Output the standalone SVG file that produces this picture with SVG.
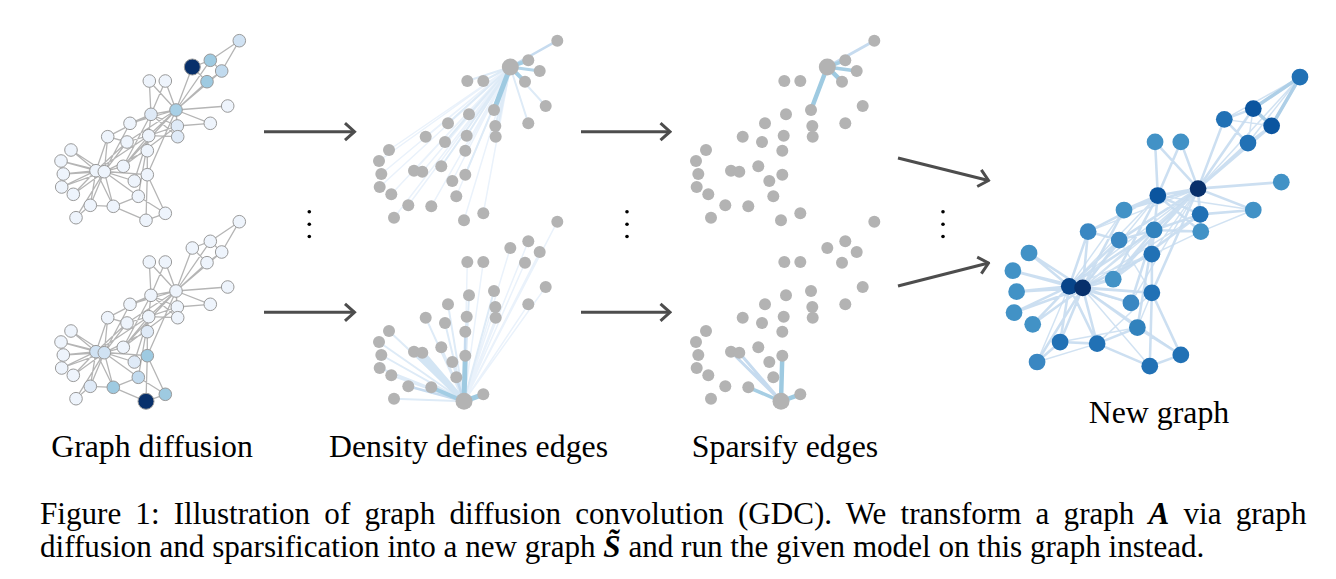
<svg xmlns="http://www.w3.org/2000/svg" xmlns:xlink="http://www.w3.org/1999/xlink" width="1336" height="579" viewBox="0 0 1336 579">
<style>
.lbl{font-family:"Liberation Serif","Times New Roman",serif;font-size:31.8px;fill:#000}
.cap{font-family:"Liberation Serif","Times New Roman",serif;font-size:31.1px;fill:#000}
.ke{fill:none;stroke:#b5b5b5;stroke-width:1.3}
.c1 circle{stroke:#9a9a9a;stroke-width:1}
.g circle{fill:#b3b3b3}
.q0{fill:#eef4fc}.q1{fill:#dfeaf7}.q2{fill:#d0e2f3}.q3{fill:#c1daee}.q4{fill:#9ecae1}.q5{fill:#a8d0e6}.nv{fill:#08306b}
.w5{fill:none;stroke:#9ecae1;stroke-width:5}
.w4{fill:none;stroke:#a3cde4;stroke-width:4}
.w3{fill:none;stroke:#b3d5ea;stroke-width:3}
.wb{fill:none;stroke:#d3e5f4;stroke-width:5}
.w2{fill:none;stroke:#c6dbef;stroke-width:2.5}
.w1{fill:none;stroke:#deebf7;stroke-width:2}
.w0{fill:none;stroke:#eaf2fb;stroke-width:1.5}
.s4{fill:none;stroke:#9ecae1;stroke-width:4.5}
.s3{fill:none;stroke:#a6cee4;stroke-width:3.5}
.s2{fill:none;stroke:#c6dbef;stroke-width:3}
.arr{stroke:#4d4d4d;stroke-width:3;fill:none}
.dot{fill:#000}
.ng circle{stroke:none}
</style>
<defs>
<marker id="chev" viewBox="-12 -11 14 22" markerWidth="14" markerHeight="22" refX="0" refY="0" orient="auto" markerUnits="userSpaceOnUse">
<path d="M-9.5,-8.5 L0,0 L-9.5,8.5" fill="none" stroke="#4d4d4d" stroke-width="3"/>
</marker>
<path id="kedges" d="M176 110L151 114.3M176 110L148.7 135.7M176 110L177.3 126M176 110L192.3 67M176 110L221.7 71M176 110L210.3 60.3M176 110L177.7 136.7M176 110L127 142M176 110L207 81.7M176 110L227.7 106M176 110L210.3 123.3M176 110L123.3 166.3M176 110L149.3 81M176 110L130 123.3M176 110L165.3 81M176 110L147.3 174.7M151 114.3L148.7 135.7M151 114.3L177.3 126M151 114.3L177.7 136.7M151 114.3L123.3 166.3M151 114.3L149.3 81M151 114.3L130 123.3M151 114.3L165.3 81M151 114.3L107.7 136.7M148.7 135.7L177.3 126M148.7 135.7L177.7 136.7M148.7 135.7L127 142M148.7 135.7L134.3 181M148.7 135.7L123.3 166.3M148.7 135.7L138.3 196.3M148.7 135.7L147.3 150.7M148.7 135.7L96 170.7M177.3 126L177.7 136.7M177.3 126L210.3 123.3M177.3 126L123.3 166.3M192.3 67L210.3 60.3M192.3 67L207 81.7M221.7 71L210.3 60.3M221.7 71L207 81.7M221.7 71L239.3 40.7M210.3 60.3L239.3 40.7M127 142L107.7 136.7M127 142L96 170.7M127 142L104.3 171.7M134.3 181L104.3 171.7M123.3 166.3L104.3 171.7M71 150L96 170.7M71 150L104.3 171.7M61 161L96 170.7M61 161L104.3 171.7M63.3 174L96 170.7M63.3 174L104.3 171.7M130 123.3L104.3 171.7M61.7 187L96 170.7M61.7 187L104.3 171.7M73.3 194.3L96 170.7M73.3 194.3L104.3 171.7M113.3 206.3L146 220.3M113.3 206.3L138.3 196.3M113.3 206.3L90.3 205.3M113.3 206.3L96 170.7M113.3 206.3L104.3 171.7M165.3 213.3L146 220.3M165.3 213.3L138.3 196.3M165.3 213.3L147.3 174.7M146 220.3L147.3 174.7M76 217.7L90.3 205.3M76 217.7L104.3 171.7M138.3 196.3L104.3 171.7M147.3 150.7L147.3 174.7M147.3 150.7L104.3 171.7M90.3 205.3L96 170.7M90.3 205.3L104.3 171.7M107.7 136.7L96 170.7M107.7 136.7L104.3 171.7M147.3 174.7L96 170.7M147.3 174.7L104.3 171.7M96 170.7L104.3 171.7"/>
</defs>

<!-- connectors -->
<g id="connectors">
  <g id="edges-diffusion-top"><use xlink:href="#kedges" class="ke"/></g>
  <g id="edges-diffusion-bottom" transform="translate(0 181)"><use xlink:href="#kedges" class="ke"/></g>
  <g id="edges-density-top" transform="translate(318 0)">
    <path class="w0" d="M192.3 67L134.3 181M192.3 67L71 150M192.3 67L61 161M192.3 67L63.3 174M192.3 67L61.7 187M192.3 67L73.3 194.3M192.3 67L113.3 206.3M192.3 67L165.3 213.3M192.3 67L146 220.3M192.3 67L76 217.7M192.3 67L138.3 196.3M192.3 67L147.3 150.7M192.3 67L90.3 205.3M192.3 67L107.7 136.7M192.3 67L96 170.7M192.3 67L104.3 171.7"/>
    <path class="w1" d="M192.3 67L151 114.3M192.3 67L148.7 135.7M192.3 67L177.3 126M192.3 67L177.7 136.7M192.3 67L127 142M192.3 67L227.7 106M192.3 67L210.3 123.3M192.3 67L123.3 166.3M192.3 67L149.3 81M192.3 67L130 123.3M192.3 67L165.3 81M192.3 67L147.3 174.7"/>
    <path class="w2" d="M192.3 67L239.3 40.7"/>
    <path class="w3" d="M192.3 67L221.7 71"/>
    <path class="w4" d="M192.3 67L210.3 60.3M192.3 67L207 81.7"/>
    <path class="w5" d="M192.3 67L176 110"/>
  </g>
  <g id="edges-density-bottom" transform="translate(318 181)">
    <path class="w0" d="M146 220.3L177.3 126M146 220.3L192.3 67M146 220.3L221.7 71M146 220.3L210.3 60.3M146 220.3L177.7 136.7M146 220.3L207 81.7M146 220.3L227.7 106M146 220.3L210.3 123.3M146 220.3L239.3 40.7M146 220.3L149.3 81M146 220.3L165.3 81"/>
    <path class="w1" d="M146 220.3L176 110M146 220.3L148.7 135.7M146 220.3L76 217.7M146 220.3L73.3 194.3M146 220.3L61.7 187M146 220.3L63.3 174M146 220.3L61 161M146 220.3L71 150M146 220.3L134.3 181M146 220.3L123.3 166.3M146 220.3L127 142M146 220.3L107.7 136.7M146 220.3L151 114.3M146 220.3L130 123.3"/>
    <path class="wb" d="M146 220.3L96 170.7M146 220.3L104.3 171.7"/>
    <path class="w2" d="M146 220.3L138.3 196.3M146 220.3L90.3 205.3M146 220.3L147.3 150.7"/>
    <path class="w4" d="M146 220.3L113.3 206.3"/>
    <path class="w5" d="M146 220.3L147.3 174.7M146 220.3L165.3 213.3"/>
  </g>
  <g id="edges-sparse-top" transform="translate(635 0)">
    <path class="s2" d="M192.3 67L239.3 40.7"/>
    <path class="s3" d="M192.3 67L210.3 60.3M192.3 67L221.7 71"/>
    <path class="s4" d="M192.3 67L176 110M192.3 67L207 81.7"/>
  </g>
  <g id="edges-sparse-bottom" transform="translate(635 181)">
    <path class="s2" d="M146 220.3L96 170.7M146 220.3L104.3 171.7"/>
    <path class="s3" d="M146 220.3L113.3 206.3"/>
    <path class="s4" d="M146 220.3L147.3 174.7M146 220.3L165.3 213.3"/>
  </g>
  <g id="edges-new" transform="translate(914.7 11.5) scale(1.61)">
    <path fill="none" stroke="#c6dbef" stroke-width="0.9" stroke-opacity="0.8" d="M239.3 40.7L192.3 67M239.3 40.7L207 81.7M239.3 40.7L176 110M192.3 67L221.7 71M210.3 60.3L207 81.7M176 110L96 170.7M176 110L104.3 171.7M151 114.3L96 170.7M151 114.3L104.3 171.7M151 114.3L210.3 123.3M148.7 135.7L104.3 171.7M176 110L134.3 181M176 110L107.7 136.7M176 110L147.3 150.7M177.3 126L104.3 171.7M177.7 136.7L104.3 171.7M147.3 150.7L96 170.7M165.3 213.3L104.3 171.7M146 220.3L104.3 171.7M113.3 206.3L147.3 174.7M138.3 196.3L147.3 174.7M76 217.7L96 170.7M76 217.7L113.3 206.3M90.3 205.3L138.3 196.3M123.3 166.3L96 170.7M134.3 181L96 170.7M130 123.3L96 170.7M127 142L147.3 174.7M210.3 123.3L177.7 136.7"/>
    <use xlink:href="#kedges" fill="none" stroke="#c6dbef" stroke-width="1.6" stroke-opacity="0.9"/>
    <path fill="none" stroke="#aecfe7" stroke-width="2.2" d="M239.3 40.7L210.3 60.3M239.3 40.7L221.7 71M210.3 60.3L221.7 71"/>
  </g>
  <g id="arrows">
    <line class="arr" x1="264" y1="131.7" x2="354.5" y2="131.7" marker-end="url(#chev)"/>
    <line class="arr" x1="264" y1="312.3" x2="354.5" y2="312.3" marker-end="url(#chev)"/>
    <line class="arr" x1="581" y1="131.7" x2="670" y2="131.7" marker-end="url(#chev)"/>
    <line class="arr" x1="581" y1="312.3" x2="670" y2="312.3" marker-end="url(#chev)"/>
    <line class="arr" x1="898" y1="158" x2="988.5" y2="180.5" marker-end="url(#chev)"/>
    <line class="arr" x1="898" y1="286" x2="988.5" y2="263" marker-end="url(#chev)"/>
  </g>
</g>

<g id="ellipses">
  <circle class="dot" cx="309.3" cy="211.7" r="1.8"/><circle class="dot" cx="309.3" cy="224.3" r="1.8"/><circle class="dot" cx="309.3" cy="236.5" r="1.8"/>
  <circle class="dot" cx="627" cy="211.7" r="1.8"/><circle class="dot" cx="627" cy="224.3" r="1.8"/><circle class="dot" cx="627" cy="236.5" r="1.8"/>
  <circle class="dot" cx="943" cy="211.7" r="1.8"/><circle class="dot" cx="943" cy="224.3" r="1.8"/><circle class="dot" cx="943" cy="236.5" r="1.8"/>
</g>

<!-- Column 1 top: graph diffusion from node 4 -->
<g id="graph-diffusion-top" class="c1">
<g id="a0"><circle class="q5" cx="176" cy="110" r="6.3"/></g>
<g id="a1"><circle class="q1" cx="151" cy="114.3" r="6.3"/></g>
<g id="a2"><circle class="q0" cx="148.7" cy="135.7" r="6.3"/></g>
<g id="a3"><circle class="q1" cx="177.3" cy="126" r="6.3"/></g>
<g id="a5"><circle class="q3" cx="221.7" cy="71" r="6.3"/></g>
<g id="a6"><circle class="q4" cx="210.3" cy="60.3" r="6.3"/></g>
<g id="a7"><circle class="q1" cx="177.7" cy="136.7" r="6.3"/></g>
<g id="a8"><circle class="q0" cx="127" cy="142" r="6.3"/></g>
<g id="a9"><circle class="q0" cx="134.3" cy="181" r="6.3"/></g>
<g id="a10"><circle class="q4" cx="207" cy="81.7" r="6.3"/></g>
<g id="a11"><circle class="q0" cx="227.7" cy="106" r="6.3"/></g>
<g id="a12"><circle class="q0" cx="210.3" cy="123.3" r="6.3"/></g>
<g id="a13"><circle class="q0" cx="123.3" cy="166.3" r="6.3"/></g>
<g id="a14"><circle class="q0" cx="71" cy="150" r="6.3"/></g>
<g id="a15"><circle class="q0" cx="61" cy="161" r="6.3"/></g>
<g id="a16"><circle class="q2" cx="239.3" cy="40.7" r="6.3"/></g>
<g id="a17"><circle class="q0" cx="149.3" cy="81" r="6.3"/></g>
<g id="a18"><circle class="q0" cx="63.3" cy="174" r="6.3"/></g>
<g id="a19"><circle class="q0" cx="130" cy="123.3" r="6.3"/></g>
<g id="a20"><circle class="q0" cx="61.7" cy="187" r="6.3"/></g>
<g id="a21"><circle class="q0" cx="165.3" cy="81" r="6.3"/></g>
<g id="a22"><circle class="q0" cx="73.3" cy="194.3" r="6.3"/></g>
<g id="a23"><circle class="q0" cx="113.3" cy="206.3" r="6.3"/></g>
<g id="a24"><circle class="q0" cx="165.3" cy="213.3" r="6.3"/></g>
<g id="a25"><circle class="q0" cx="146" cy="220.3" r="6.3"/></g>
<g id="a26"><circle class="q0" cx="76" cy="217.7" r="6.3"/></g>
<g id="a27"><circle class="q0" cx="138.3" cy="196.3" r="6.3"/></g>
<g id="a28"><circle class="q0" cx="147.3" cy="150.7" r="6.3"/></g>
<g id="a29"><circle class="q0" cx="90.3" cy="205.3" r="6.3"/></g>
<g id="a30"><circle class="q0" cx="107.7" cy="136.7" r="6.3"/></g>
<g id="a31"><circle class="q0" cx="147.3" cy="174.7" r="6.3"/></g>
<g id="a32"><circle class="q0" cx="96" cy="170.7" r="6.3"/></g>
<g id="a33"><circle class="q0" cx="104.3" cy="171.7" r="6.3"/></g>
<g id="a4"><circle class="nv" cx="192.3" cy="67" r="8"/></g>
</g>

<!-- Column 1 bottom: graph diffusion from node 25 -->
<g id="graph-diffusion-bottom" class="c1" transform="translate(0 181)">
<g id="b0"><circle class="q0" cx="176" cy="110" r="6.3"/></g>
<g id="b1"><circle class="q0" cx="151" cy="114.3" r="6.3"/></g>
<g id="b2"><circle class="q0" cx="148.7" cy="135.7" r="6.3"/></g>
<g id="b3"><circle class="q0" cx="177.3" cy="126" r="6.3"/></g>
<g id="b4"><circle class="q0" cx="192.3" cy="67" r="6.3"/></g>
<g id="b5"><circle class="q0" cx="221.7" cy="71" r="6.3"/></g>
<g id="b6"><circle class="q0" cx="210.3" cy="60.3" r="6.3"/></g>
<g id="b7"><circle class="q0" cx="177.7" cy="136.7" r="6.3"/></g>
<g id="b8"><circle class="q0" cx="127" cy="142" r="6.3"/></g>
<g id="b9"><circle class="q1" cx="134.3" cy="181" r="6.3"/></g>
<g id="b10"><circle class="q0" cx="207" cy="81.7" r="6.3"/></g>
<g id="b11"><circle class="q0" cx="227.7" cy="106" r="6.3"/></g>
<g id="b12"><circle class="q0" cx="210.3" cy="123.3" r="6.3"/></g>
<g id="b13"><circle class="q0" cx="123.3" cy="166.3" r="6.3"/></g>
<g id="b14"><circle class="q0" cx="71" cy="150" r="6.3"/></g>
<g id="b15"><circle class="q0" cx="61" cy="161" r="6.3"/></g>
<g id="b16"><circle class="q0" cx="239.3" cy="40.7" r="6.3"/></g>
<g id="b17"><circle class="q0" cx="149.3" cy="81" r="6.3"/></g>
<g id="b18"><circle class="q0" cx="63.3" cy="174" r="6.3"/></g>
<g id="b19"><circle class="q0" cx="130" cy="123.3" r="6.3"/></g>
<g id="b20"><circle class="q0" cx="61.7" cy="187" r="6.3"/></g>
<g id="b21"><circle class="q0" cx="165.3" cy="81" r="6.3"/></g>
<g id="b22"><circle class="q0" cx="73.3" cy="194.3" r="6.3"/></g>
<g id="b23"><circle class="q4" cx="113.3" cy="206.3" r="6.3"/></g>
<g id="b24"><circle class="q4" cx="165.3" cy="213.3" r="6.3"/></g>
<g id="b26"><circle class="q0" cx="76" cy="217.7" r="6.3"/></g>
<g id="b27"><circle class="q3" cx="138.3" cy="196.3" r="6.3"/></g>
<g id="b28"><circle class="q1" cx="147.3" cy="150.7" r="6.3"/></g>
<g id="b29"><circle class="q1" cx="90.3" cy="205.3" r="6.3"/></g>
<g id="b30"><circle class="q0" cx="107.7" cy="136.7" r="6.3"/></g>
<g id="b31"><circle class="q4" cx="147.3" cy="174.7" r="6.3"/></g>
<g id="b32"><circle class="q2" cx="96" cy="170.7" r="6.3"/></g>
<g id="b33"><circle class="q2" cx="104.3" cy="171.7" r="6.3"/></g>
<g id="b25"><circle class="nv" cx="146" cy="220.3" r="8"/></g>
</g>

<!-- Column 2 top -->
<g id="graph-density-top" class="g" transform="translate(318 0)">
<g id="c0"><circle cx="176" cy="110" r="6"/></g>
<g id="c1"><circle cx="151" cy="114.3" r="6"/></g>
<g id="c2"><circle cx="148.7" cy="135.7" r="6"/></g>
<g id="c3"><circle cx="177.3" cy="126" r="6"/></g>
<g id="c5"><circle cx="221.7" cy="71" r="6"/></g>
<g id="c6"><circle cx="210.3" cy="60.3" r="6"/></g>
<g id="c7"><circle cx="177.7" cy="136.7" r="6"/></g>
<g id="c8"><circle cx="127" cy="142" r="6"/></g>
<g id="c9"><circle cx="134.3" cy="181" r="6"/></g>
<g id="c10"><circle cx="207" cy="81.7" r="6"/></g>
<g id="c11"><circle cx="227.7" cy="106" r="6"/></g>
<g id="c12"><circle cx="210.3" cy="123.3" r="6"/></g>
<g id="c13"><circle cx="123.3" cy="166.3" r="6"/></g>
<g id="c14"><circle cx="71" cy="150" r="6"/></g>
<g id="c15"><circle cx="61" cy="161" r="6"/></g>
<g id="c16"><circle cx="239.3" cy="40.7" r="6"/></g>
<g id="c17"><circle cx="149.3" cy="81" r="6"/></g>
<g id="c18"><circle cx="63.3" cy="174" r="6"/></g>
<g id="c19"><circle cx="130" cy="123.3" r="6"/></g>
<g id="c20"><circle cx="61.7" cy="187" r="6"/></g>
<g id="c21"><circle cx="165.3" cy="81" r="6"/></g>
<g id="c22"><circle cx="73.3" cy="194.3" r="6"/></g>
<g id="c23"><circle cx="113.3" cy="206.3" r="6"/></g>
<g id="c24"><circle cx="165.3" cy="213.3" r="6"/></g>
<g id="c25"><circle cx="146" cy="220.3" r="6"/></g>
<g id="c26"><circle cx="76" cy="217.7" r="6"/></g>
<g id="c27"><circle cx="138.3" cy="196.3" r="6"/></g>
<g id="c28"><circle cx="147.3" cy="150.7" r="6"/></g>
<g id="c29"><circle cx="90.3" cy="205.3" r="6"/></g>
<g id="c30"><circle cx="107.7" cy="136.7" r="6"/></g>
<g id="c31"><circle cx="147.3" cy="174.7" r="6"/></g>
<g id="c32"><circle cx="96" cy="170.7" r="6"/></g>
<g id="c33"><circle cx="104.3" cy="171.7" r="6"/></g>
<g id="c4"><circle cx="192.3" cy="67" r="8.5"/></g>
</g>

<!-- Column 2 bottom -->
<g id="graph-density-bottom" class="g" transform="translate(318 181)">
<g id="d0"><circle cx="176" cy="110" r="6"/></g>
<g id="d1"><circle cx="151" cy="114.3" r="6"/></g>
<g id="d2"><circle cx="148.7" cy="135.7" r="6"/></g>
<g id="d3"><circle cx="177.3" cy="126" r="6"/></g>
<g id="d4"><circle cx="192.3" cy="67" r="6"/></g>
<g id="d5"><circle cx="221.7" cy="71" r="6"/></g>
<g id="d6"><circle cx="210.3" cy="60.3" r="6"/></g>
<g id="d7"><circle cx="177.7" cy="136.7" r="6"/></g>
<g id="d8"><circle cx="127" cy="142" r="6"/></g>
<g id="d9"><circle cx="134.3" cy="181" r="6"/></g>
<g id="d10"><circle cx="207" cy="81.7" r="6"/></g>
<g id="d11"><circle cx="227.7" cy="106" r="6"/></g>
<g id="d12"><circle cx="210.3" cy="123.3" r="6"/></g>
<g id="d13"><circle cx="123.3" cy="166.3" r="6"/></g>
<g id="d14"><circle cx="71" cy="150" r="6"/></g>
<g id="d15"><circle cx="61" cy="161" r="6"/></g>
<g id="d16"><circle cx="239.3" cy="40.7" r="6"/></g>
<g id="d17"><circle cx="149.3" cy="81" r="6"/></g>
<g id="d18"><circle cx="63.3" cy="174" r="6"/></g>
<g id="d19"><circle cx="130" cy="123.3" r="6"/></g>
<g id="d20"><circle cx="61.7" cy="187" r="6"/></g>
<g id="d21"><circle cx="165.3" cy="81" r="6"/></g>
<g id="d22"><circle cx="73.3" cy="194.3" r="6"/></g>
<g id="d23"><circle cx="113.3" cy="206.3" r="6"/></g>
<g id="d24"><circle cx="165.3" cy="213.3" r="6"/></g>
<g id="d26"><circle cx="76" cy="217.7" r="6"/></g>
<g id="d27"><circle cx="138.3" cy="196.3" r="6"/></g>
<g id="d28"><circle cx="147.3" cy="150.7" r="6"/></g>
<g id="d29"><circle cx="90.3" cy="205.3" r="6"/></g>
<g id="d30"><circle cx="107.7" cy="136.7" r="6"/></g>
<g id="d31"><circle cx="147.3" cy="174.7" r="6"/></g>
<g id="d32"><circle cx="96" cy="170.7" r="6"/></g>
<g id="d33"><circle cx="104.3" cy="171.7" r="6"/></g>
<g id="d25"><circle cx="146" cy="220.3" r="8.5"/></g>
</g>

<!-- Column 3 top -->
<g id="graph-sparse-top" class="g" transform="translate(635 0)">
<g id="e0"><circle cx="176" cy="110" r="6"/></g>
<g id="e1"><circle cx="151" cy="114.3" r="6"/></g>
<g id="e2"><circle cx="148.7" cy="135.7" r="6"/></g>
<g id="e3"><circle cx="177.3" cy="126" r="6"/></g>
<g id="e5"><circle cx="221.7" cy="71" r="6"/></g>
<g id="e6"><circle cx="210.3" cy="60.3" r="6"/></g>
<g id="e7"><circle cx="177.7" cy="136.7" r="6"/></g>
<g id="e8"><circle cx="127" cy="142" r="6"/></g>
<g id="e9"><circle cx="134.3" cy="181" r="6"/></g>
<g id="e10"><circle cx="207" cy="81.7" r="6"/></g>
<g id="e11"><circle cx="227.7" cy="106" r="6"/></g>
<g id="e12"><circle cx="210.3" cy="123.3" r="6"/></g>
<g id="e13"><circle cx="123.3" cy="166.3" r="6"/></g>
<g id="e14"><circle cx="71" cy="150" r="6"/></g>
<g id="e15"><circle cx="61" cy="161" r="6"/></g>
<g id="e16"><circle cx="239.3" cy="40.7" r="6"/></g>
<g id="e17"><circle cx="149.3" cy="81" r="6"/></g>
<g id="e18"><circle cx="63.3" cy="174" r="6"/></g>
<g id="e19"><circle cx="130" cy="123.3" r="6"/></g>
<g id="e20"><circle cx="61.7" cy="187" r="6"/></g>
<g id="e21"><circle cx="165.3" cy="81" r="6"/></g>
<g id="e22"><circle cx="73.3" cy="194.3" r="6"/></g>
<g id="e23"><circle cx="113.3" cy="206.3" r="6"/></g>
<g id="e24"><circle cx="165.3" cy="213.3" r="6"/></g>
<g id="e25"><circle cx="146" cy="220.3" r="6"/></g>
<g id="e26"><circle cx="76" cy="217.7" r="6"/></g>
<g id="e27"><circle cx="138.3" cy="196.3" r="6"/></g>
<g id="e28"><circle cx="147.3" cy="150.7" r="6"/></g>
<g id="e29"><circle cx="90.3" cy="205.3" r="6"/></g>
<g id="e30"><circle cx="107.7" cy="136.7" r="6"/></g>
<g id="e31"><circle cx="147.3" cy="174.7" r="6"/></g>
<g id="e32"><circle cx="96" cy="170.7" r="6"/></g>
<g id="e33"><circle cx="104.3" cy="171.7" r="6"/></g>
<g id="e4"><circle cx="192.3" cy="67" r="8.5"/></g>
</g>

<!-- Column 3 bottom -->
<g id="graph-sparse-bottom" class="g" transform="translate(635 181)">
<g id="f0"><circle cx="176" cy="110" r="6"/></g>
<g id="f1"><circle cx="151" cy="114.3" r="6"/></g>
<g id="f2"><circle cx="148.7" cy="135.7" r="6"/></g>
<g id="f3"><circle cx="177.3" cy="126" r="6"/></g>
<g id="f4"><circle cx="192.3" cy="67" r="6"/></g>
<g id="f5"><circle cx="221.7" cy="71" r="6"/></g>
<g id="f6"><circle cx="210.3" cy="60.3" r="6"/></g>
<g id="f7"><circle cx="177.7" cy="136.7" r="6"/></g>
<g id="f8"><circle cx="127" cy="142" r="6"/></g>
<g id="f9"><circle cx="134.3" cy="181" r="6"/></g>
<g id="f10"><circle cx="207" cy="81.7" r="6"/></g>
<g id="f11"><circle cx="227.7" cy="106" r="6"/></g>
<g id="f12"><circle cx="210.3" cy="123.3" r="6"/></g>
<g id="f13"><circle cx="123.3" cy="166.3" r="6"/></g>
<g id="f14"><circle cx="71" cy="150" r="6"/></g>
<g id="f15"><circle cx="61" cy="161" r="6"/></g>
<g id="f16"><circle cx="239.3" cy="40.7" r="6"/></g>
<g id="f17"><circle cx="149.3" cy="81" r="6"/></g>
<g id="f18"><circle cx="63.3" cy="174" r="6"/></g>
<g id="f19"><circle cx="130" cy="123.3" r="6"/></g>
<g id="f20"><circle cx="61.7" cy="187" r="6"/></g>
<g id="f21"><circle cx="165.3" cy="81" r="6"/></g>
<g id="f22"><circle cx="73.3" cy="194.3" r="6"/></g>
<g id="f23"><circle cx="113.3" cy="206.3" r="6"/></g>
<g id="f24"><circle cx="165.3" cy="213.3" r="6"/></g>
<g id="f26"><circle cx="76" cy="217.7" r="6"/></g>
<g id="f27"><circle cx="138.3" cy="196.3" r="6"/></g>
<g id="f28"><circle cx="147.3" cy="150.7" r="6"/></g>
<g id="f29"><circle cx="90.3" cy="205.3" r="6"/></g>
<g id="f30"><circle cx="107.7" cy="136.7" r="6"/></g>
<g id="f31"><circle cx="147.3" cy="174.7" r="6"/></g>
<g id="f32"><circle cx="96" cy="170.7" r="6"/></g>
<g id="f33"><circle cx="104.3" cy="171.7" r="6"/></g>
<g id="f25"><circle cx="146" cy="220.3" r="8.5"/></g>
</g>

<!-- New graph -->
<g id="graph-new" class="ng" transform="translate(914.7 11.5) scale(1.61)">
<g id="n0"><circle fill="#08306b" cx="176" cy="110" r="5.2"/></g>
<g id="n1"><circle fill="#0b559f" cx="151" cy="114.3" r="5.2"/></g>
<g id="n2"><circle fill="#3182bd" cx="148.7" cy="135.7" r="5.2"/></g>
<g id="n3"><circle fill="#2171b5" cx="177.3" cy="126" r="5.2"/></g>
<g id="n4"><circle fill="#2171b5" cx="192.3" cy="67" r="5.2"/></g>
<g id="n5"><circle fill="#0b559f" cx="221.7" cy="71" r="5.2"/></g>
<g id="n6"><circle fill="#0b559f" cx="210.3" cy="60.3" r="5.2"/></g>
<g id="n7"><circle fill="#4292c6" cx="177.7" cy="136.7" r="5.2"/></g>
<g id="n8"><circle fill="#3a87c2" cx="127" cy="142" r="5.2"/></g>
<g id="n9"><circle fill="#3a87c2" cx="134.3" cy="181" r="5.2"/></g>
<g id="n10"><circle fill="#2171b5" cx="207" cy="81.7" r="5.2"/></g>
<g id="n11"><circle fill="#4292c6" cx="227.7" cy="106" r="5.2"/></g>
<g id="n12"><circle fill="#4292c6" cx="210.3" cy="123.3" r="5.2"/></g>
<g id="n13"><circle fill="#4292c6" cx="123.3" cy="166.3" r="5.2"/></g>
<g id="n14"><circle fill="#4292c6" cx="71" cy="150" r="5.2"/></g>
<g id="n15"><circle fill="#4292c6" cx="61" cy="161" r="5.2"/></g>
<g id="n16"><circle fill="#2171b5" cx="239.3" cy="40.7" r="5.2"/></g>
<g id="n17"><circle fill="#4292c6" cx="149.3" cy="81" r="5.2"/></g>
<g id="n18"><circle fill="#4292c6" cx="63.3" cy="174" r="5.2"/></g>
<g id="n19"><circle fill="#4292c6" cx="130" cy="123.3" r="5.2"/></g>
<g id="n20"><circle fill="#4292c6" cx="61.7" cy="187" r="5.2"/></g>
<g id="n21"><circle fill="#4292c6" cx="165.3" cy="81" r="5.2"/></g>
<g id="n22"><circle fill="#4292c6" cx="73.3" cy="194.3" r="5.2"/></g>
<g id="n23"><circle fill="#2171b5" cx="113.3" cy="206.3" r="5.2"/></g>
<g id="n24"><circle fill="#2171b5" cx="165.3" cy="213.3" r="5.2"/></g>
<g id="n25"><circle fill="#2171b5" cx="146" cy="220.3" r="5.2"/></g>
<g id="n26"><circle fill="#3a87c2" cx="76" cy="217.7" r="5.2"/></g>
<g id="n27"><circle fill="#3182bd" cx="138.3" cy="196.3" r="5.2"/></g>
<g id="n28"><circle fill="#2171b5" cx="147.3" cy="150.7" r="5.2"/></g>
<g id="n29"><circle fill="#2171b5" cx="90.3" cy="205.3" r="5.2"/></g>
<g id="n30"><circle fill="#3a87c2" cx="107.7" cy="136.7" r="5.2"/></g>
<g id="n31"><circle fill="#2171b5" cx="147.3" cy="174.7" r="5.2"/></g>
<g id="n32"><circle fill="#08458a" cx="96" cy="170.7" r="5.2"/></g>
<g id="n33"><circle fill="#08306b" cx="104.3" cy="171.7" r="5.2"/></g>
</g>

<g id="labels">
<text class="lbl" x="152" y="457" text-anchor="middle">Graph diffusion</text>
<text class="lbl" x="468.5" y="457" text-anchor="middle">Density defines edges</text>
<text class="lbl" x="785" y="457" text-anchor="middle">Sparsify edges</text>
<text class="lbl" x="1159" y="423" text-anchor="middle">New graph</text>
</g>
<g id="caption">
<text class="cap" x="40" y="524" word-spacing="6.4">Figure 1: Illustration of graph diffusion convolution (GDC). We transform a graph <tspan font-weight="bold" font-style="italic">A</tspan> via graph</text>
<text class="cap" x="40" y="557">diffusion and sparsification into a new graph <tspan font-weight="bold" font-style="italic">S̃</tspan> and run the given model on this graph instead.</text>
</g>
</svg>
